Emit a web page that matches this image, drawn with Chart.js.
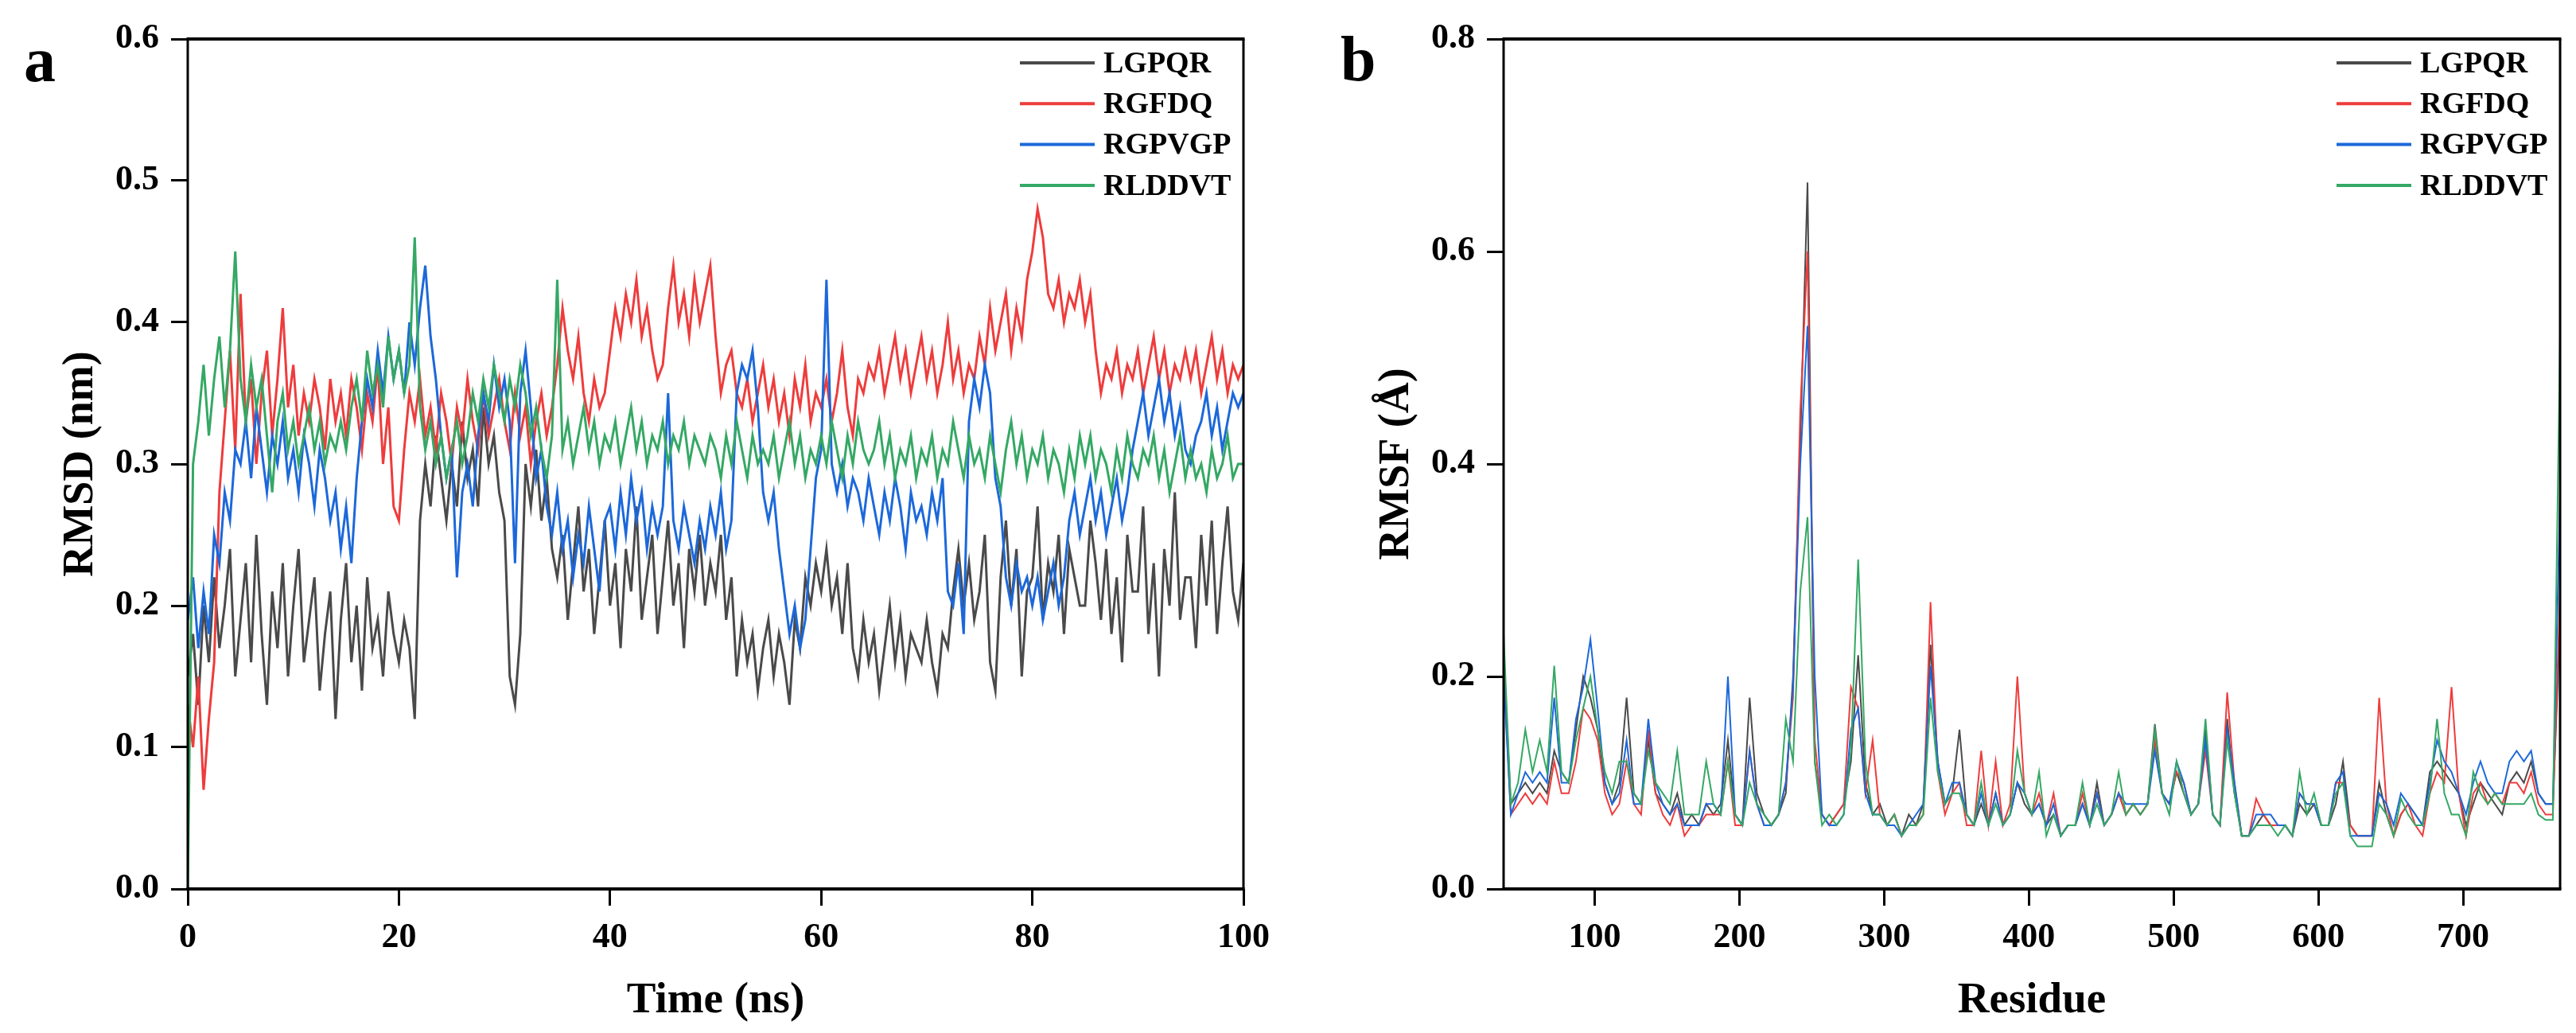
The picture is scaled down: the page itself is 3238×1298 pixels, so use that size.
<!DOCTYPE html>
<html>
<head>
<meta charset="utf-8">
<title>RMSD / RMSF</title>
<script src="https://cdn.jsdelivr.net/npm/chart.js@4.4.0/dist/chart.umd.min.js"></script>
<style>
	body { margin: 0; background: #fff; width: 3238px; height: 1298px; position: relative; overflow: hidden; }
	.panel { position: absolute; top: 0; height: 1298px; }
	#wrapA { left: 0; width: 1620px; }
	#wrapB { left: 1620px; width: 1618px; }
	.tag { position: absolute; font-family: "Liberation Serif", "Times New Roman", serif; font-weight: bold; font-size: 80px; line-height: 1; color: #000; }
</style>
</head>
<body>
	<div class="panel" id="wrapA"><canvas id="chartA"></canvas></div>
	<div class="panel" id="wrapB"><canvas id="chartB"></canvas></div>
	<div class="tag" style="left:30px; top:35px;">a</div>
	<div class="tag" style="left:1685px; top:34px;">b</div>

	<script type="text/javascript">

		var seriesNames = ['LGPQR', 'RGFDQ', 'RGPVGP', 'RLDDVT'];
		var seriesColors = ['rgb(74, 74, 74)', 'rgb(238, 60, 60)', 'rgb(28, 104, 218)', 'rgb(52, 168, 100)'];

		// panel a: RMSD, one value every 0.5 ns (rows of 5 ns)
		var timeStep = 0.5;
		var rmsdLGPQR = [
			0.15,0.18,0.13,0.20,0.16,0.22,0.17,0.20,0.24,0.15,
			0.19,0.23,0.16,0.25,0.18,0.13,0.21,0.17,0.23,0.15,
			0.20,0.24,0.16,0.19,0.22,0.14,0.18,0.21,0.12,0.19,
			0.23,0.16,0.20,0.14,0.22,0.17,0.19,0.15,0.21,0.18,
			0.16,0.19,0.17,0.12,0.26,0.30,0.27,0.32,0.29,0.26,
			0.30,0.27,0.33,0.29,0.31,0.27,0.34,0.30,0.32,0.28,
			0.26,0.15,0.13,0.18,0.30,0.27,0.31,0.26,0.29,0.24,
			0.22,0.25,0.19,0.23,0.27,0.21,0.24,0.18,0.22,0.26,
			0.20,0.23,0.17,0.24,0.21,0.27,0.19,0.22,0.25,0.18,
			0.22,0.26,0.20,0.23,0.17,0.24,0.21,0.25,0.20,0.23,
			0.21,0.25,0.19,0.22,0.15,0.19,0.16,0.18,0.14,0.17,
			0.19,0.15,0.18,0.16,0.13,0.19,0.17,0.22,0.20,0.23,
			0.21,0.24,0.20,0.22,0.18,0.23,0.17,0.15,0.19,0.16,
			0.18,0.14,0.17,0.20,0.16,0.19,0.15,0.18,0.17,0.16,
			0.19,0.16,0.14,0.18,0.17,0.21,0.24,0.20,0.23,0.19,
			0.21,0.25,0.16,0.14,0.22,0.26,0.20,0.24,0.15,0.21,
			0.22,0.27,0.19,0.23,0.21,0.25,0.18,0.24,0.22,0.20,
			0.20,0.26,0.23,0.19,0.24,0.18,0.22,0.16,0.25,0.21,
			0.21,0.27,0.18,0.23,0.15,0.24,0.20,0.28,0.19,0.22,
			0.22,0.17,0.25,0.20,0.26,0.18,0.23,0.27,0.21,0.19,
			0.23
		];
		var rmsdRGFDQ = [
			0.13,0.10,0.15,0.07,0.12,0.16,0.28,0.33,0.38,0.31,
			0.42,0.33,0.36,0.30,0.35,0.38,0.32,0.36,0.41,0.34,
			0.37,0.32,0.35,0.33,0.36,0.34,0.31,0.36,0.33,0.35,
			0.32,0.36,0.34,0.31,0.35,0.33,0.37,0.30,0.34,0.27,
			0.26,0.31,0.35,0.33,0.36,0.32,0.34,0.31,0.35,0.33,
			0.30,0.34,0.32,0.36,0.33,0.31,0.35,0.32,0.34,0.36,
			0.33,0.31,0.35,0.32,0.34,0.30,0.33,0.35,0.32,0.34,
			0.37,0.41,0.38,0.36,0.39,0.35,0.33,0.36,0.34,0.35,
			0.38,0.41,0.39,0.42,0.40,0.43,0.39,0.41,0.38,0.36,
			0.37,0.41,0.44,0.40,0.42,0.39,0.43,0.40,0.42,0.44,
			0.39,0.35,0.37,0.38,0.35,0.34,0.36,0.33,0.35,0.37,
			0.34,0.36,0.33,0.35,0.32,0.36,0.34,0.37,0.33,0.35,
			0.34,0.36,0.33,0.35,0.38,0.34,0.32,0.36,0.35,0.37,
			0.36,0.38,0.35,0.37,0.39,0.36,0.38,0.35,0.37,0.39,
			0.36,0.38,0.35,0.37,0.40,0.36,0.38,0.35,0.37,0.36,
			0.39,0.37,0.41,0.38,0.40,0.42,0.38,0.41,0.39,0.43,
			0.45,0.48,0.46,0.42,0.41,0.43,0.40,0.42,0.41,0.43,
			0.40,0.42,0.38,0.35,0.37,0.36,0.38,0.35,0.37,0.36,
			0.38,0.35,0.37,0.39,0.36,0.38,0.35,0.37,0.36,0.38,
			0.36,0.38,0.35,0.37,0.39,0.36,0.38,0.35,0.37,0.36,
			0.37
		];
		var rmsdRGPVGP = [
			0.19,0.22,0.17,0.21,0.18,0.25,0.23,0.28,0.26,0.31,
			0.30,0.33,0.29,0.34,0.31,0.28,0.32,0.30,0.33,0.29,
			0.31,0.28,0.32,0.30,0.27,0.31,0.29,0.26,0.28,0.24,
			0.27,0.23,0.29,0.33,0.36,0.34,0.38,0.35,0.39,0.36,
			0.38,0.35,0.40,0.37,0.41,0.44,0.39,0.36,0.32,0.29,
			0.31,0.22,0.28,0.30,0.27,0.32,0.35,0.33,0.37,0.34,
			0.36,0.33,0.23,0.35,0.38,0.34,0.29,0.31,0.27,0.25,
			0.28,0.24,0.26,0.22,0.25,0.23,0.27,0.24,0.21,0.26,
			0.27,0.24,0.28,0.25,0.29,0.26,0.28,0.24,0.27,0.25,
			0.27,0.35,0.26,0.24,0.27,0.25,0.23,0.26,0.24,0.27,
			0.25,0.28,0.24,0.26,0.35,0.37,0.36,0.38,0.34,0.28,
			0.26,0.28,0.24,0.21,0.18,0.20,0.17,0.19,0.24,0.29,
			0.31,0.43,0.30,0.28,0.30,0.27,0.29,0.28,0.26,0.29,
			0.27,0.25,0.28,0.26,0.29,0.27,0.24,0.28,0.26,0.27,
			0.25,0.28,0.26,0.29,0.21,0.20,0.23,0.18,0.33,0.36,
			0.34,0.37,0.35,0.29,0.27,0.22,0.20,0.23,0.21,0.22,
			0.20,0.22,0.19,0.21,0.23,0.20,0.22,0.26,0.28,0.25,
			0.27,0.29,0.26,0.28,0.25,0.27,0.29,0.26,0.28,0.31,
			0.33,0.35,0.32,0.34,0.36,0.33,0.35,0.32,0.34,0.31,
			0.30,0.32,0.33,0.35,0.32,0.34,0.31,0.33,0.35,0.34,
			0.35
		];
		var rmsdRLDDVT = [
			0.00,0.30,0.33,0.37,0.32,0.36,0.39,0.34,0.38,0.45,
			0.36,0.33,0.37,0.34,0.36,0.32,0.28,0.33,0.35,0.31,
			0.33,0.30,0.32,0.34,0.31,0.33,0.30,0.32,0.31,0.33,
			0.31,0.34,0.36,0.33,0.38,0.35,0.37,0.34,0.39,0.36,
			0.38,0.35,0.37,0.46,0.34,0.31,0.33,0.30,0.32,0.29,
			0.31,0.33,0.30,0.32,0.35,0.33,0.36,0.34,0.37,0.35,
			0.33,0.36,0.34,0.37,0.35,0.32,0.34,0.31,0.29,0.32,
			0.43,0.31,0.33,0.30,0.32,0.34,0.31,0.33,0.30,0.32,
			0.31,0.33,0.30,0.32,0.34,0.31,0.33,0.30,0.32,0.31,
			0.33,0.30,0.32,0.31,0.33,0.30,0.32,0.31,0.30,0.32,
			0.31,0.29,0.32,0.30,0.33,0.31,0.29,0.32,0.30,0.31,
			0.30,0.32,0.29,0.31,0.33,0.30,0.32,0.29,0.31,0.30,
			0.32,0.30,0.33,0.31,0.29,0.32,0.30,0.33,0.31,0.30,
			0.31,0.33,0.30,0.32,0.29,0.31,0.30,0.32,0.29,0.31,
			0.30,0.32,0.29,0.31,0.30,0.33,0.31,0.29,0.32,0.30,
			0.31,0.29,0.32,0.30,0.28,0.31,0.33,0.30,0.32,0.29,
			0.31,0.30,0.32,0.29,0.31,0.30,0.28,0.31,0.29,0.32,
			0.30,0.32,0.29,0.31,0.30,0.28,0.31,0.29,0.32,0.30,
			0.29,0.31,0.30,0.32,0.29,0.31,0.28,0.30,0.32,0.29,
			0.31,0.29,0.30,0.28,0.31,0.29,0.30,0.32,0.29,0.30,
			0.30
		];
		var timeTicks = [0, 20, 40, 60, 80, 100];
		var rmsdTicks = [0, 0.1, 0.2, 0.3, 0.4, 0.5, 0.6];

		// panel b: RMSF, one value every 5 residues starting at residue 37
		var firstResidue = 37;
		var residueStep = 5;
		var rmsfLGPQR = [
			0.22,0.08,0.09,0.10,0.09,0.10,0.09,0.13,0.11,0.10,
			0.15,0.20,0.18,0.15,0.10,0.08,0.10,0.18,0.09,0.08,
			0.14,0.09,0.08,0.07,0.09,0.06,0.07,0.06,0.08,0.07,
			0.08,0.14,0.07,0.06,0.18,0.09,0.07,0.06,0.07,0.09,
			0.20,0.42,0.665,0.12,0.07,0.06,0.07,0.08,0.12,0.22,
			0.10,0.07,0.08,0.06,0.07,0.05,0.07,0.06,0.08,0.23,
			0.12,0.08,0.09,0.15,0.07,0.06,0.08,0.06,0.09,0.06,
			0.07,0.10,0.08,0.07,0.08,0.06,0.07,0.05,0.06,0.06,
			0.08,0.06,0.10,0.06,0.07,0.09,0.07,0.08,0.07,0.08,
			0.155,0.09,0.08,0.11,0.09,0.07,0.08,0.15,0.07,0.06,
			0.16,0.09,0.05,0.05,0.06,0.07,0.06,0.06,0.06,0.05,
			0.08,0.07,0.08,0.06,0.06,0.08,0.12,0.06,0.05,0.05,
			0.05,0.10,0.07,0.05,0.07,0.08,0.07,0.06,0.11,0.12,
			0.11,0.10,0.09,0.06,0.08,0.10,0.09,0.08,0.07,0.10,
			0.11,0.10,0.12,0.09,0.08,0.08,0.25
		];
		var rmsfRGFDQ = [
			0.21,0.07,0.08,0.09,0.08,0.09,0.08,0.12,0.09,0.09,
			0.12,0.17,0.16,0.14,0.09,0.07,0.08,0.12,0.08,0.07,
			0.15,0.09,0.07,0.06,0.08,0.05,0.06,0.06,0.07,0.07,
			0.07,0.12,0.06,0.06,0.13,0.08,0.06,0.06,0.07,0.10,
			0.18,0.45,0.60,0.14,0.07,0.06,0.07,0.08,0.19,0.17,
			0.09,0.14,0.07,0.06,0.07,0.05,0.06,0.06,0.07,0.27,
			0.11,0.07,0.09,0.10,0.06,0.06,0.13,0.06,0.12,0.06,
			0.08,0.20,0.09,0.07,0.09,0.06,0.09,0.05,0.06,0.06,
			0.09,0.06,0.09,0.06,0.07,0.09,0.07,0.08,0.07,0.08,
			0.14,0.09,0.08,0.11,0.10,0.07,0.08,0.13,0.07,0.06,
			0.185,0.10,0.05,0.05,0.085,0.07,0.06,0.06,0.06,0.05,
			0.09,0.08,0.08,0.06,0.06,0.10,0.10,0.06,0.05,0.05,
			0.05,0.18,0.08,0.05,0.07,0.08,0.06,0.05,0.09,0.11,
			0.10,0.19,0.09,0.05,0.09,0.10,0.08,0.09,0.08,0.10,
			0.10,0.09,0.11,0.08,0.07,0.07,0.28
		];
		var rmsfRGPVGP = [
			0.20,0.07,0.09,0.11,0.10,0.11,0.10,0.18,0.10,0.10,
			0.16,0.19,0.235,0.17,0.10,0.08,0.09,0.14,0.08,0.08,
			0.16,0.10,0.08,0.07,0.08,0.06,0.06,0.06,0.08,0.08,
			0.07,0.20,0.07,0.06,0.13,0.08,0.06,0.06,0.07,0.10,
			0.19,0.40,0.53,0.20,0.07,0.06,0.06,0.07,0.15,0.17,
			0.09,0.07,0.07,0.06,0.06,0.05,0.06,0.07,0.08,0.21,
			0.12,0.08,0.10,0.10,0.07,0.06,0.09,0.06,0.09,0.06,
			0.07,0.10,0.09,0.07,0.08,0.06,0.08,0.05,0.06,0.06,
			0.08,0.06,0.09,0.06,0.07,0.09,0.08,0.08,0.08,0.08,
			0.13,0.09,0.08,0.12,0.10,0.07,0.08,0.14,0.07,0.06,
			0.15,0.10,0.05,0.05,0.07,0.07,0.07,0.06,0.06,0.05,
			0.09,0.08,0.08,0.06,0.06,0.10,0.11,0.05,0.05,0.05,
			0.05,0.09,0.08,0.06,0.09,0.08,0.07,0.06,0.10,0.14,
			0.12,0.11,0.09,0.07,0.10,0.12,0.10,0.09,0.09,0.12,
			0.13,0.12,0.13,0.09,0.08,0.08,0.37
		];
		var rmsfRLDDVT = [
			0.24,0.08,0.10,0.15,0.11,0.14,0.11,0.21,0.11,0.10,
			0.14,0.17,0.20,0.15,0.11,0.09,0.12,0.12,0.09,0.08,
			0.13,0.10,0.09,0.08,0.13,0.07,0.07,0.07,0.12,0.08,
			0.07,0.12,0.07,0.06,0.10,0.08,0.07,0.06,0.07,0.16,
			0.12,0.28,0.35,0.12,0.06,0.07,0.06,0.07,0.13,0.31,
			0.12,0.07,0.07,0.06,0.07,0.05,0.06,0.06,0.07,0.18,
			0.11,0.08,0.09,0.09,0.07,0.06,0.10,0.06,0.08,0.06,
			0.07,0.13,0.09,0.07,0.11,0.05,0.07,0.05,0.06,0.06,
			0.10,0.06,0.08,0.06,0.07,0.11,0.07,0.08,0.07,0.08,
			0.15,0.09,0.07,0.12,0.09,0.07,0.08,0.16,0.07,0.06,
			0.14,0.09,0.05,0.05,0.06,0.06,0.06,0.05,0.06,0.05,
			0.11,0.07,0.09,0.06,0.06,0.09,0.10,0.05,0.04,0.04,
			0.04,0.08,0.07,0.05,0.085,0.07,0.06,0.06,0.09,0.16,
			0.09,0.07,0.07,0.05,0.11,0.09,0.08,0.09,0.08,0.08,
			0.08,0.08,0.09,0.07,0.065,0.065,0.52
		];
		var residueTicks = [100, 200, 300, 400, 500, 600, 700];
		var rmsfTicks = [0, 0.2, 0.4, 0.6, 0.8];

		var fontFamily = '"Liberation Serif", "Times New Roman", serif';
		Chart.defaults.font.family = fontFamily;
		Chart.defaults.font.weight = 'bold';
		Chart.defaults.color = '#000';

		function toPoints(values, start, step) {
			return values.map(function(v, i) {
				return { x: start + i * step, y: v };
			});
		}

		function makeDatasets(seriesList, start, step, lineWidth) {
			return seriesList.map(function(values, i) {
				return {
					label: seriesNames[i],
					data: toPoints(values, start, step),
					borderColor: seriesColors[i],
					backgroundColor: seriesColors[i],
					borderWidth: lineWidth,
					pointRadius: 0,
					tension: 0,
					fill: false,
					order: seriesList.length - i
				};
			});
		}

		// box round the plot: thick top and bottom, thinner sides
		var framePlugin = {
			id: 'frame',
			afterDraw: function(chart) {
				var a = chart.chartArea;
				var ctx = chart.ctx;
				ctx.save();
				ctx.strokeStyle = '#000';
				ctx.lineWidth = 4;
				ctx.beginPath();
				ctx.moveTo(a.left - 1.5, a.top); ctx.lineTo(a.right + 1.5, a.top);
				ctx.moveTo(a.left - 1.5, a.bottom); ctx.lineTo(a.right + 1.5, a.bottom);
				ctx.stroke();
				ctx.lineWidth = 3;
				ctx.beginPath();
				ctx.moveTo(a.left, a.top); ctx.lineTo(a.left, a.bottom);
				ctx.moveTo(a.right, a.top); ctx.lineTo(a.right, a.bottom);
				ctx.stroke();
				ctx.restore();
			}
		};

		// legend in the top right corner of the plot
		var legendPlugin = {
			id: 'cornerLegend',
			afterDraw: function(chart) {
				var a = chart.chartArea;
				var ctx = chart.ctx;
				ctx.save();
				ctx.font = 'bold 38px ' + fontFamily;
				ctx.textBaseline = 'middle';
				ctx.textAlign = 'left';
				chart.data.datasets.forEach(function(ds, i) {
					var y = a.top + 30 + i * 51.3;
					ctx.strokeStyle = ds.borderColor;
					ctx.lineWidth = 4;
					ctx.beginPath();
					ctx.moveTo(a.right - 281, y);
					ctx.lineTo(a.right - 187, y);
					ctx.stroke();
					ctx.fillStyle = '#000';
					ctx.fillText(ds.label, a.right - 176, y + 2);
				});
				ctx.restore();
			}
		};

		function fixedTicks(values) {
			return function(scale) {
				scale.ticks = values.map(function(v) { return { value: v }; });
			};
		}

		function axisGrid() {
			return {
				display: true,
				drawOnChartArea: false,
				drawTicks: true,
				tickLength: 21,
				tickWidth: 3,
				tickColor: '#000'
			};
		}

		function makeConfig(datasets, xOpt, yOpt, pad) {
			return {
				type: 'line',
				data: { datasets: datasets },
				options: {
					responsive: true,
					maintainAspectRatio: false,
					animation: false,
					layout: { padding: pad },
					plugins: { legend: { display: false }, tooltip: { enabled: false } },
					scales: {
						x: {
							type: 'linear',
							min: xOpt.min,
							max: xOpt.max,
							border: { display: false },
							grid: axisGrid(),
							afterBuildTicks: fixedTicks(xOpt.ticks),
							afterFit: function(scale) { scale.height = 181; },
							ticks: {
								autoSkip: false,
								maxRotation: 0,
								padding: 14,
								font: { size: 44, weight: 'bold' },
								callback: function(v) { return String(v); }
							},
							title: {
								display: true,
								text: xOpt.title,
								font: { size: 55, weight: 'bold' },
								padding: { top: 0, bottom: 7 }
							}
						},
						y: {
							type: 'linear',
							min: yOpt.min,
							max: yOpt.max,
							border: { display: false },
							grid: axisGrid(),
							afterBuildTicks: fixedTicks(yOpt.ticks),
							afterFit: function(scale) { scale.width = yOpt.width; },
							ticks: {
								autoSkip: false,
								padding: 15,
								font: { size: 44, weight: 'bold' },
								callback: function(v) { return Number(v).toFixed(1); }
							},
							title: {
								display: true,
								text: yOpt.title,
								font: { size: 54, weight: 'bold' },
								padding: { top: yOpt.titlePad, bottom: 0 }
							}
						}
					}
				},
				plugins: [framePlugin, legendPlugin]
			};
		}

		var configA = makeConfig(
			makeDatasets([rmsdLGPQR, rmsdRGFDQ, rmsdRGPVGP, rmsdRLDDVT], 0, timeStep, 3),
			{ min: 0, max: 100, ticks: timeTicks, title: 'Time (ns)' },
			{ min: 0, max: 0.6, ticks: rmsdTicks, title: 'RMSD (nm)', width: 236, titlePad: 70 },
			{ top: 49, right: 57, left: 0, bottom: 0 }
		);

		var configB = makeConfig(
			makeDatasets([rmsfLGPQR, rmsfRGFDQ, rmsfRGPVGP, rmsfRLDDVT], firstResidue, residueStep, 2),
			{ min: 37, max: 767, ticks: residueTicks, title: 'Residue' },
			{ min: 0, max: 0.8, ticks: rmsfTicks, title: 'RMSF (Å)', width: 270, titlePad: 104 },
			{ top: 49, right: 20, left: 0, bottom: 0 }
		);

		var chartA = new Chart(document.getElementById('chartA').getContext('2d'), configA);
		var chartB = new Chart(document.getElementById('chartB').getContext('2d'), configB);

	</script>
</body>
</html>
